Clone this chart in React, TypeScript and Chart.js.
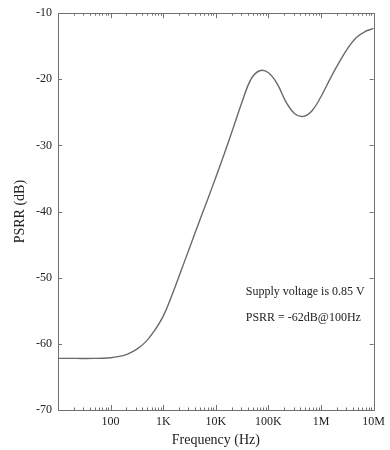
import React, { useEffect, useRef } from "react";
import { Chart, registerables } from "chart.js";

Chart.register(...registerables);

// PSRR curve: frequency (Hz) and rejection (dB)
const FREQ_HZ = [
  10, 22, 46, 100, 147, 215, 316, 464, 681, 1000, 1470, 2150, 3160, 4640,
  6810, 10000, 14700, 21500, 31600, 46400, 68100, 100000, 147000, 215000,
  316000, 464000, 681000, 1000000, 1470000, 2150000, 3160000, 4640000,
  6810000, 10000000,
];
const PSRR_DB = [
  -62.2, -62.2, -62.2, -62.1, -61.9, -61.5, -60.8, -59.7, -58.0, -55.8, -52.6,
  -49.1, -45.5, -41.9, -38.4, -34.8, -31.1, -27.3, -23.4, -20.0, -18.7, -19.0,
  -20.7, -23.4, -25.2, -25.6, -24.7, -22.6, -20.0, -17.6, -15.4, -13.7, -12.8,
  -12.3,
];

// Axis ticks and labels
const X_TICKS = [100, 1000, 10000, 100000, 1000000, 10000000];
const X_LABELS = ["100", "1K", "10K", "100K", "1M", "10M"];
const Y_TICKS = [-70, -60, -50, -40, -30, -20, -10];
const Y_LABELS = ["-70", "-60", "-50", "-40", "-30", "-20", "-10"];

const NOTE_LINES = ["Supply voltage is 0.85 V", "PSRR = -62dB@100Hz"];

const SERIF = "'Liberation Serif', 'DejaVu Serif', serif";
const FRAME = "#707070";
const TEXT = "#222222";

// Draws the closed frame with inward mirrored tick marks and the note text
const framePlugin = {
  id: "frameTicks",
  afterDraw(chart: any) {
    const { ctx, chartArea: a, scales } = chart;
    const xs = scales.x;
    const ys = scales.y;
    ctx.save();
    ctx.strokeStyle = FRAME;
    ctx.lineWidth = 1;
    ctx.strokeRect(Math.round(a.left) + 0.5, Math.round(a.top) + 0.5,
      Math.round(a.right - a.left), Math.round(a.bottom - a.top));

    ctx.beginPath();
    // log ticks along bottom and top
    for (let d = 1; d < 7; d++) {
      for (let k = 1; k <= 9; k++) {
        const v = k * Math.pow(10, d);
        const px = Math.round(xs.getPixelForValue(v)) + 0.5;
        if (px <= a.left + 1 || px >= a.right - 1) continue;
        const len = k === 1 ? 5 : 2.5;
        ctx.moveTo(px, a.bottom);
        ctx.lineTo(px, a.bottom - len);
        ctx.moveTo(px, a.top);
        ctx.lineTo(px, a.top + len);
      }
    }
    // linear ticks along left and right
    Y_TICKS.forEach((v) => {
      const py = Math.round(ys.getPixelForValue(v)) + 0.5;
      if (py <= a.top + 1 || py >= a.bottom - 1) return;
      ctx.moveTo(a.left, py);
      ctx.lineTo(a.left + 4, py);
      ctx.moveTo(a.right, py);
      ctx.lineTo(a.right - 4, py);
    });
    ctx.stroke();

    // annotation
    ctx.fillStyle = TEXT;
    ctx.font = `12px ${SERIF}`;
    ctx.textAlign = "left";
    ctx.textBaseline = "middle";
    const tx = xs.getPixelForValue(37000);
    ctx.fillText(NOTE_LINES[0], tx, ys.getPixelForValue(-52.2));
    ctx.fillText(NOTE_LINES[1], tx, ys.getPixelForValue(-56.0));
    ctx.restore();
  },
};

export default function App() {
  const ref = useRef<HTMLCanvasElement | null>(null);

  useEffect(() => {
    if (!ref.current) return;
    const chart = new Chart(ref.current, {
      type: "line",
      data: {
        datasets: [
          {
            data: FREQ_HZ.map((f, i) => ({ x: f, y: PSRR_DB[i] })),
            borderColor: "#6a6a6a",
            borderWidth: 1.4,
            pointRadius: 0,
            tension: 0.4,
            fill: false,
          },
        ],
      },
      options: {
        animation: false,
        responsive: false,
        maintainAspectRatio: false,
        layout: { padding: { top: 13, right: 14, left: 0, bottom: 0 } },
        plugins: {
          legend: { display: false },
          tooltip: { enabled: false },
        },
        scales: {
          x: {
            type: "logarithmic",
            min: 10,
            max: 10000000,
            grid: { display: false, drawTicks: false },
            border: { display: false },
            afterBuildTicks: (s: any) => {
              s.ticks = X_TICKS.map((v) => ({ value: v }));
            },
            afterFit: (s: any) => {
              s.height = 40;
            },
            ticks: {
              autoSkip: false,
              maxRotation: 0,
              padding: 5,
              color: TEXT,
              font: { family: SERIF, size: 12 },
              callback: (_v: any, i: number) => X_LABELS[i],
            },
            title: {
              display: true,
              text: "Frequency (Hz)",
              color: TEXT,
              font: { family: SERIF, size: 14 },
              padding: { top: 0, bottom: 1 },
            },
          },
          y: {
            type: "linear",
            min: -70,
            max: -10,
            grid: { display: false, drawTicks: false },
            border: { display: false },
            afterBuildTicks: (s: any) => {
              s.ticks = Y_TICKS.map((v) => ({ value: v }));
            },
            afterFit: (s: any) => {
              s.width = 58;
            },
            ticks: {
              padding: 6,
              color: TEXT,
              font: { family: SERIF, size: 12 },
              callback: (_v: any, i: number) => Y_LABELS[i],
            },
            title: {
              display: true,
              text: "PSRR (dB)",
              color: TEXT,
              font: { family: SERIF, size: 14 },
              padding: { top: 12, bottom: 0 },
            },
          },
        },
      },
      plugins: [framePlugin],
    } as any);
    return () => chart.destroy();
  }, []);

  return (
    <div
      style={{
        position: "fixed",
        left: 0,
        top: 0,
        width: 390,
        height: 450,
        background: "#ffffff",
      }}
    >
      <canvas ref={ref} width={390} height={450} style={{ width: 390, height: 450 }} />
    </div>
  );
}
